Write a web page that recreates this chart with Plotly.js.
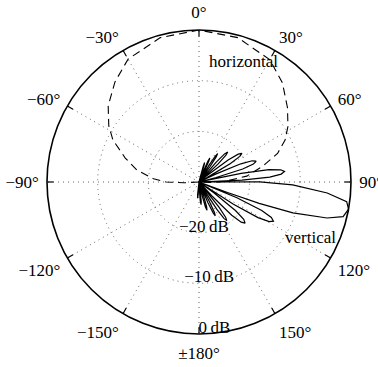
<!DOCTYPE html>
<html>
<head>
<meta charset="utf-8">
<script src="https://cdn.plot.ly/plotly-3.0.1.min.js"></script>
<style>html,body{margin:0;padding:0;background:#fff;}#chart{width:378px;height:367px;}</style>
</head>
<body>
<div id="chart"></div>
<script>
// Horizontal pattern (dashed), angle in degrees, level in dB
const horizTheta = [-96, -93, -90, -86, -79, -72, -64, -58, -50, -40, -30, -15, 0, 15, 30, 40, 50, 58, 64, 70, 76, 83, 89, 92, 94];
const horizDb    = [-30, -27, -23.5, -21, -17.5, -14.7, -11.1, -9, -6.6, -4.2, -2.0, -0.5, 0, -0.5, -2.1, -4.4, -7.2, -9.3, -11.1, -13.5, -17, -20.5, -25, -27.5, -30];

// Vertical pattern (solid), angle in degrees, level in dB
const vertTheta = [
  12, 14, 15, 16, 17, 18, 20,
  22.1, 23.2, 24.25, 25.3, 26.4, 28.5,
  30.9, 32.1, 33.25, 34.4, 35.6, 38,
  40.9, 42.3, 43.75, 45.2, 46.6, 49.5,
  51.1, 52.9, 54.6, 56.25, 57.9, 59.6, 61.4, 63,
  64.7, 66.5, 68.25, 70, 71.75, 73.5, 75.3, 77,
  77.6, 78.4, 80, 81.5, 83, 84.5, 86, 87.6, 88.4, 89,
  89.8, 91.8, 94.9, 97.6, 100.3, 103.5, 105.7, 108.2, 109.6, 110.3, 111,
  111.7, 112.6, 114.4, 116.1, 117.75, 119.4, 121.1, 122.9, 123.8, 124.5,
  126.2, 128.1, 129.9, 131.75, 133.6, 135.4, 137.3, 139,
  140.3, 141.6, 142.9, 144.25, 145.6, 146.9, 148.2, 149.5,
  151.9, 153.1, 154.25, 155.4, 156.6, 159,
  161.6, 162.9, 164.25, 165.6, 166.9, 169.5,
  172.1, 173.4, 174.75, 176.1, 177.4, 180,
  182.5, 183.75, 185, 186.25, 187.5, 190
];
const vertDb = [
  -30, -29, -26.7, -26, -26.7, -29, -30,
  -27.8, -25.5, -24.8, -25.5, -27.8, -30,
  -26.3, -24.0, -23.3, -24.0, -26.3, -30,
  -24.8, -22.5, -21.8, -22.5, -24.8, -30,
  -28.3, -22.8, -20.5, -19.8, -20.5, -22.8, -28.3, -30,
  -26.5, -21, -18.7, -18, -18.7, -21, -26.5, -30,
  -29, -21.5, -16, -13.7, -13, -13.7, -16, -21.5, -29, -30,
  -18, -11.5, -4.6, -0.6, 0, -0.75, -3.75, -10.5, -17.4, -24, -30,
  -29.4, -21.9, -16.4, -14.1, -13.4, -14.1, -16.4, -21.9, -29.4, -30,
  -26.3, -20.8, -18.5, -17.8, -18.5, -20.8, -26.3, -30,
  -29.1, -23.6, -21.3, -20.6, -21.3, -23.6, -29.1, -30,
  -25.6, -23.3, -22.6, -23.3, -25.6, -30,
  -27.2, -24.9, -24.2, -24.9, -27.2, -30,
  -28.5, -26.2, -25.5, -26.2, -28.5, -30,
  -29.8, -27.5, -26.8, -27.5, -29.8, -30
];

// Axis ticks
const angTickVals = [0, 30, 60, 90, 120, 150, 180, 210, 240, 270, 300, 330];
const angTickText = ['0°', '30°', '60°', '90°', '120°', '150°', '±180°', '−150°', '−120°', '−90°', '−60°', '−30°'];
const radTickVals = [-20, -10, 0];
const radTickText = ['−20\u2009dB', '−10\u2009dB', '0\u2009dB'];
const radRange = [-30, 0];

const FONT = '"Liberation Serif", "Times New Roman", serif';
const FS = 17;
const labelAngle = 174;   // direction along which the dB labels are written
const labelInset = 0.9;   // dB the labels sit inside their ring

const traces = [
  {
    type: 'scatterpolar', mode: 'lines', subplot: 'polar',
    theta: horizTheta, r: horizDb,
    line: {color: '#000', width: 1.1, dash: '8px,5px'},
    cliponaxis: false, hoverinfo: 'skip'
  },
  {
    type: 'scatterpolar', mode: 'lines', subplot: 'polar',
    theta: vertTheta, r: vertDb,
    line: {color: '#000', width: 1.2},
    cliponaxis: false, hoverinfo: 'skip'
  },
  {
    type: 'scatterpolar', mode: 'text', subplot: 'polar',
    theta: radTickVals.map(() => labelAngle), r: radTickVals.map(v => v - labelInset),
    text: radTickText, textposition: 'middle center',
    textfont: {family: FONT, size: FS, color: '#000'},
    cliponaxis: false, hoverinfo: 'skip'
  },
  {
    // overlay subplot that only carries the inward tick marks on the rim
    type: 'scatterpolar', mode: 'lines', subplot: 'polar2',
    theta: [0], r: [radRange[0]], line: {color: 'rgba(0,0,0,0)'},
    hoverinfo: 'skip'
  }
];

const angCommon = {
  rotation: 90, direction: 'clockwise',
  tickmode: 'array', tickvals: angTickVals, ticktext: angTickText
};

const layout = {
  width: 378, height: 367,
  margin: {l: 47, r: 27, t: 30, b: 33, pad: 0},
  paper_bgcolor: '#fff',
  showlegend: false,
  font: {family: FONT, size: FS, color: '#000'},
  polar: {
    bgcolor: '#fff',
    domain: {x: [0, 1], y: [0, 1]},
    angularaxis: Object.assign({}, angCommon, {
      ticks: 'outside', ticklen: 4, tickcolor: 'rgba(0,0,0,0)',
      showline: true, linecolor: '#000', linewidth: 1.6,
      showgrid: true, gridcolor: '#666', gridwidth: 1, griddash: '1px,4px',
      tickfont: {family: FONT, size: FS, color: '#000'}
    }),
    radialaxis: {
      range: radRange, tickmode: 'array', tickvals: radTickVals,
      showticklabels: false, ticks: '', showline: false,
      showgrid: true, gridcolor: '#666', gridwidth: 1, griddash: '1px,4px'
    }
  },
  polar2: {
    bgcolor: 'rgba(0,0,0,0)',
    domain: {x: [0, 1], y: [0, 1]},
    angularaxis: Object.assign({}, angCommon, {
      ticks: 'inside', ticklen: 6, tickwidth: 1.2, tickcolor: '#000',
      showticklabels: false, showline: false, showgrid: false
    }),
    radialaxis: {
      range: radRange, showticklabels: false, ticks: '', showline: false, showgrid: false
    }
  },
  annotations: [
    {text: 'horizontal', xref: 'paper', yref: 'paper', x: 0.648, y: 0.895,
     xanchor: 'center', yanchor: 'middle',
     showarrow: false, font: {family: FONT, size: FS, color: '#000'}},
    {text: 'vertical', xref: 'paper', yref: 'paper', x: 0.868, y: 0.316,
     xanchor: 'center', yanchor: 'middle',
     showarrow: false, font: {family: FONT, size: FS, color: '#000'}}
  ]
};

Plotly.newPlot('chart', traces, layout, {staticPlot: true, displayModeBar: false});
</script>
</body>
</html>
